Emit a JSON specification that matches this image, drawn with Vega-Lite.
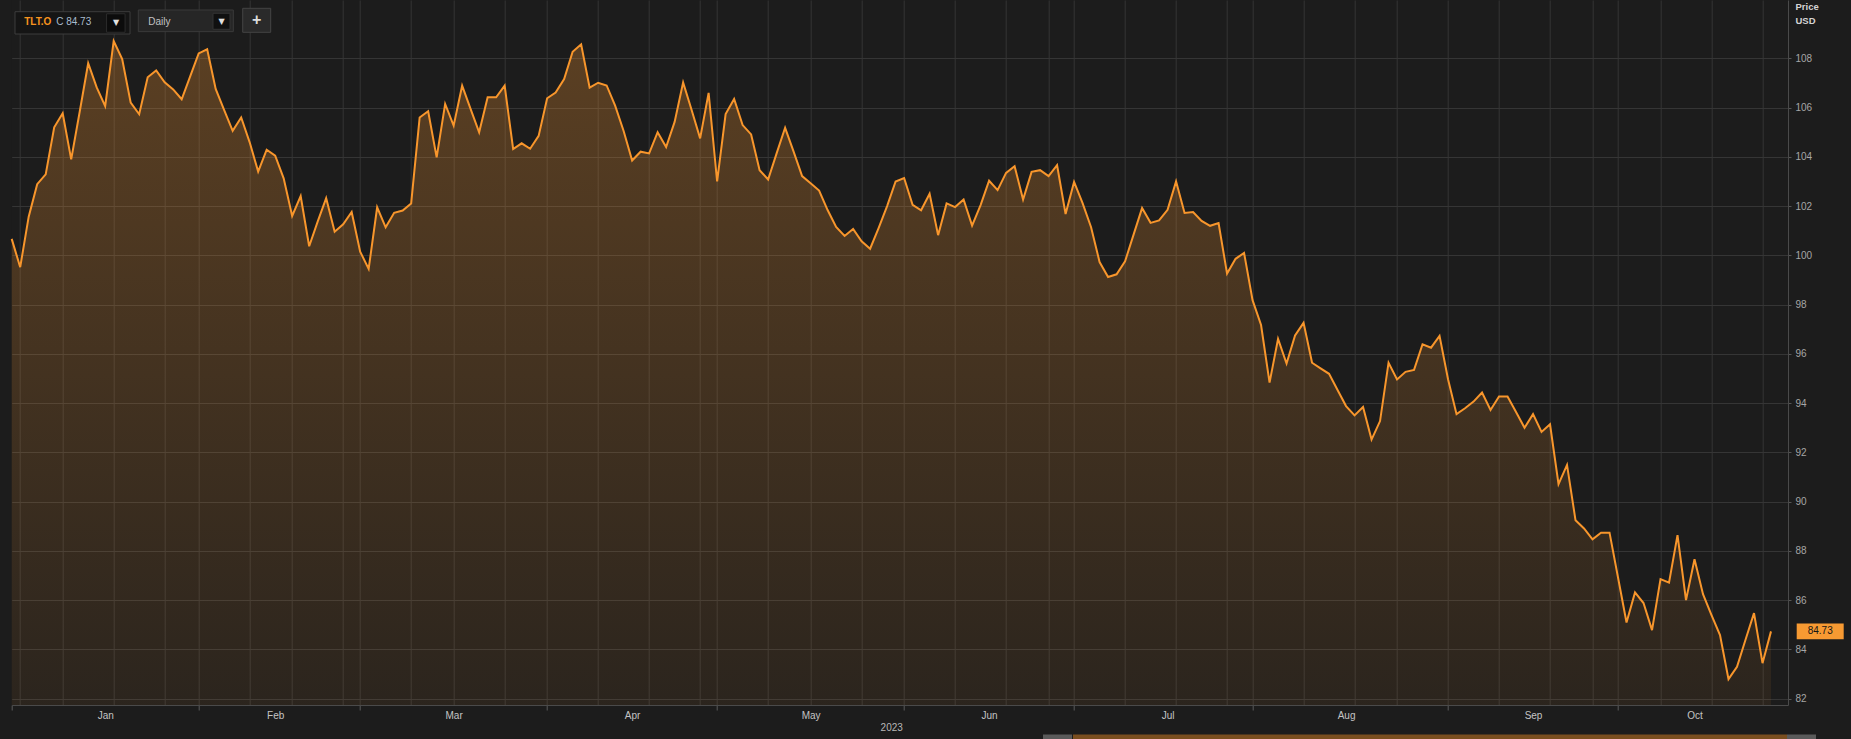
{
  "$schema": "https://vega.github.io/schema/vega-lite/v6.json",
  "autosize": "none",
  "width": 1776.3,
  "height": 705,
  "padding": {"left": 11.7, "top": 0, "right": 63, "bottom": 34},
  "background": "#1c1c1c",
  "config": {
    "view": {"stroke": null, "fill": "#1c1c1c"},
    "font": "Liberation Sans",
    "axis": {"labelFont": "Liberation Sans", "titleFont": "Liberation Sans"}
  },
  "data": {"values": [
    {"date": "2022-12-29", "close": 100.67}, {"date": "2022-12-30", "close": 99.52},
    {"date": "2023-01-03", "close": 101.57}, {"date": "2023-01-04", "close": 102.89}, {"date": "2023-01-05", "close": 103.29}, {"date": "2023-01-06", "close": 105.2},
    {"date": "2023-01-09", "close": 105.77}, {"date": "2023-01-10", "close": 103.9}, {"date": "2023-01-11", "close": 105.83}, {"date": "2023-01-12", "close": 107.8}, {"date": "2023-01-13", "close": 106.82},
    {"date": "2023-01-17", "close": 106.06}, {"date": "2023-01-18", "close": 108.7}, {"date": "2023-01-19", "close": 107.97}, {"date": "2023-01-20", "close": 106.2},
    {"date": "2023-01-23", "close": 105.73}, {"date": "2023-01-24", "close": 107.23}, {"date": "2023-01-25", "close": 107.51}, {"date": "2023-01-26", "close": 107.03}, {"date": "2023-01-27", "close": 106.74},
    {"date": "2023-01-30", "close": 106.34}, {"date": "2023-01-31", "close": 107.27},
    {"date": "2023-02-01", "close": 108.2}, {"date": "2023-02-02", "close": 108.37}, {"date": "2023-02-03", "close": 106.76},
    {"date": "2023-02-06", "close": 105.9}, {"date": "2023-02-07", "close": 105.06}, {"date": "2023-02-08", "close": 105.6}, {"date": "2023-02-09", "close": 104.59}, {"date": "2023-02-10", "close": 103.4},
    {"date": "2023-02-13", "close": 104.29}, {"date": "2023-02-14", "close": 104.05}, {"date": "2023-02-15", "close": 103.13}, {"date": "2023-02-16", "close": 101.6}, {"date": "2023-02-17", "close": 102.41},
    {"date": "2023-02-21", "close": 100.37}, {"date": "2023-02-22", "close": 101.37}, {"date": "2023-02-23", "close": 102.32}, {"date": "2023-02-24", "close": 100.96},
    {"date": "2023-02-27", "close": 101.26}, {"date": "2023-02-28", "close": 101.76},
    {"date": "2023-03-01", "close": 100.15}, {"date": "2023-03-02", "close": 99.45}, {"date": "2023-03-03", "close": 101.95},
    {"date": "2023-03-06", "close": 101.14}, {"date": "2023-03-07", "close": 101.73}, {"date": "2023-03-08", "close": 101.82}, {"date": "2023-03-09", "close": 102.11}, {"date": "2023-03-10", "close": 105.6},
    {"date": "2023-03-13", "close": 105.85}, {"date": "2023-03-14", "close": 103.98}, {"date": "2023-03-15", "close": 106.15}, {"date": "2023-03-16", "close": 105.27}, {"date": "2023-03-17", "close": 106.89},
    {"date": "2023-03-20", "close": 105.94}, {"date": "2023-03-21", "close": 105.0}, {"date": "2023-03-22", "close": 106.42}, {"date": "2023-03-23", "close": 106.42}, {"date": "2023-03-24", "close": 106.89},
    {"date": "2023-03-27", "close": 104.32}, {"date": "2023-03-28", "close": 104.55}, {"date": "2023-03-29", "close": 104.33}, {"date": "2023-03-30", "close": 104.85}, {"date": "2023-03-31", "close": 106.38},
    {"date": "2023-04-03", "close": 106.61}, {"date": "2023-04-04", "close": 107.16}, {"date": "2023-04-05", "close": 108.27}, {"date": "2023-04-06", "close": 108.57},
    {"date": "2023-04-10", "close": 106.81}, {"date": "2023-04-11", "close": 107.01}, {"date": "2023-04-12", "close": 106.9}, {"date": "2023-04-13", "close": 106.08}, {"date": "2023-04-14", "close": 105.05},
    {"date": "2023-04-17", "close": 103.85}, {"date": "2023-04-18", "close": 104.21}, {"date": "2023-04-19", "close": 104.14}, {"date": "2023-04-20", "close": 105.0}, {"date": "2023-04-21", "close": 104.4},
    {"date": "2023-04-24", "close": 105.42}, {"date": "2023-04-25", "close": 107.02}, {"date": "2023-04-26", "close": 105.9}, {"date": "2023-04-27", "close": 104.75}, {"date": "2023-04-28", "close": 106.6},
    {"date": "2023-05-01", "close": 103.0}, {"date": "2023-05-02", "close": 105.74}, {"date": "2023-05-03", "close": 106.35}, {"date": "2023-05-04", "close": 105.29}, {"date": "2023-05-05", "close": 104.91},
    {"date": "2023-05-08", "close": 103.46}, {"date": "2023-05-09", "close": 103.08}, {"date": "2023-05-10", "close": 104.14}, {"date": "2023-05-11", "close": 105.18}, {"date": "2023-05-12", "close": 104.21},
    {"date": "2023-05-15", "close": 103.22}, {"date": "2023-05-16", "close": 102.93}, {"date": "2023-05-17", "close": 102.63}, {"date": "2023-05-18", "close": 101.84}, {"date": "2023-05-19", "close": 101.15},
    {"date": "2023-05-22", "close": 100.79}, {"date": "2023-05-23", "close": 101.07}, {"date": "2023-05-24", "close": 100.57}, {"date": "2023-05-25", "close": 100.27}, {"date": "2023-05-26", "close": 101.11},
    {"date": "2023-05-30", "close": 102.0}, {"date": "2023-05-31", "close": 103.0},
    {"date": "2023-06-01", "close": 103.14}, {"date": "2023-06-02", "close": 102.05},
    {"date": "2023-06-05", "close": 101.83}, {"date": "2023-06-06", "close": 102.5}, {"date": "2023-06-07", "close": 100.82}, {"date": "2023-06-08", "close": 102.11}, {"date": "2023-06-09", "close": 101.96},
    {"date": "2023-06-12", "close": 102.27}, {"date": "2023-06-13", "close": 101.21}, {"date": "2023-06-14", "close": 102.04}, {"date": "2023-06-15", "close": 103.03}, {"date": "2023-06-16", "close": 102.65},
    {"date": "2023-06-20", "close": 103.35}, {"date": "2023-06-21", "close": 103.62}, {"date": "2023-06-22", "close": 102.27}, {"date": "2023-06-23", "close": 103.39},
    {"date": "2023-06-26", "close": 103.46}, {"date": "2023-06-27", "close": 103.22}, {"date": "2023-06-28", "close": 103.66}, {"date": "2023-06-29", "close": 101.68}, {"date": "2023-06-30", "close": 102.98},
    {"date": "2023-07-03", "close": 102.12}, {"date": "2023-07-05", "close": 101.14}, {"date": "2023-07-06", "close": 99.73}, {"date": "2023-07-07", "close": 99.12},
    {"date": "2023-07-10", "close": 99.23}, {"date": "2023-07-11", "close": 99.76}, {"date": "2023-07-12", "close": 100.84}, {"date": "2023-07-13", "close": 101.92}, {"date": "2023-07-14", "close": 101.32},
    {"date": "2023-07-17", "close": 101.42}, {"date": "2023-07-18", "close": 101.85}, {"date": "2023-07-19", "close": 103.0}, {"date": "2023-07-20", "close": 101.72}, {"date": "2023-07-21", "close": 101.76},
    {"date": "2023-07-24", "close": 101.4}, {"date": "2023-07-25", "close": 101.2}, {"date": "2023-07-26", "close": 101.31}, {"date": "2023-07-27", "close": 99.26}, {"date": "2023-07-28", "close": 99.86},
    {"date": "2023-07-31", "close": 100.1},
    {"date": "2023-08-01", "close": 98.18}, {"date": "2023-08-02", "close": 97.17}, {"date": "2023-08-03", "close": 94.83}, {"date": "2023-08-04", "close": 96.61},
    {"date": "2023-08-07", "close": 95.61}, {"date": "2023-08-08", "close": 96.75}, {"date": "2023-08-09", "close": 97.26}, {"date": "2023-08-10", "close": 95.64}, {"date": "2023-08-11", "close": 95.41},
    {"date": "2023-08-14", "close": 95.19}, {"date": "2023-08-15", "close": 94.53}, {"date": "2023-08-16", "close": 93.88}, {"date": "2023-08-17", "close": 93.5}, {"date": "2023-08-18", "close": 93.84},
    {"date": "2023-08-21", "close": 92.52}, {"date": "2023-08-22", "close": 93.27}, {"date": "2023-08-23", "close": 95.64}, {"date": "2023-08-24", "close": 94.96}, {"date": "2023-08-25", "close": 95.27},
    {"date": "2023-08-28", "close": 95.35}, {"date": "2023-08-29", "close": 96.39}, {"date": "2023-08-30", "close": 96.25}, {"date": "2023-08-31", "close": 96.73},
    {"date": "2023-09-01", "close": 94.97},
    {"date": "2023-09-05", "close": 93.55}, {"date": "2023-09-06", "close": 93.79}, {"date": "2023-09-07", "close": 94.06}, {"date": "2023-09-08", "close": 94.43},
    {"date": "2023-09-11", "close": 93.72}, {"date": "2023-09-12", "close": 94.27}, {"date": "2023-09-13", "close": 94.27}, {"date": "2023-09-14", "close": 93.64}, {"date": "2023-09-15", "close": 93.0},
    {"date": "2023-09-18", "close": 93.55}, {"date": "2023-09-19", "close": 92.83}, {"date": "2023-09-20", "close": 93.14}, {"date": "2023-09-21", "close": 90.71}, {"date": "2023-09-22", "close": 91.49},
    {"date": "2023-09-25", "close": 89.24}, {"date": "2023-09-26", "close": 88.91}, {"date": "2023-09-27", "close": 88.47}, {"date": "2023-09-28", "close": 88.74}, {"date": "2023-09-29", "close": 88.74},
    {"date": "2023-10-02", "close": 86.92}, {"date": "2023-10-03", "close": 85.09}, {"date": "2023-10-04", "close": 86.31}, {"date": "2023-10-05", "close": 85.88}, {"date": "2023-10-06", "close": 84.78},
    {"date": "2023-10-09", "close": 86.85}, {"date": "2023-10-10", "close": 86.71}, {"date": "2023-10-11", "close": 88.64}, {"date": "2023-10-12", "close": 86.0}, {"date": "2023-10-13", "close": 87.66},
    {"date": "2023-10-16", "close": 86.24}, {"date": "2023-10-17", "close": 85.39}, {"date": "2023-10-18", "close": 84.58}, {"date": "2023-10-19", "close": 82.79}, {"date": "2023-10-20", "close": 83.29},
    {"date": "2023-10-23", "close": 84.39}, {"date": "2023-10-24", "close": 85.47}, {"date": "2023-10-25", "close": 83.44}, {"date": "2023-10-26", "close": 84.73}
  ]},
  "encoding": {
    "x": {
      "field": "date", "type": "ordinal",
      "scale": {"type": "point", "padding": 1.52, "align": 0, "round": false},
      "axis": {
        "orient": "bottom",
        "title": "2023",
        "titleFontSize": 10, "titleFontWeight": "normal", "titleColor": "#b8b8b8", "titlePadding": 2, "titleX": 879.5,
        "labelAngle": 0, "labelOverlap": false, "labelFontSize": 10, "labelColor": "#c4c4c4", "labelPadding": 0,
        "labelExpr": "datum.value === '2023-01-17' ? 'Jan' : datum.value === '2023-02-14' ? 'Feb' : datum.value === '2023-03-16' ? 'Mar' : datum.value === '2023-04-17' ? 'Apr' : datum.value === '2023-05-16' ? 'May' : datum.value === '2023-06-15' ? 'Jun' : datum.value === '2023-07-18' ? 'Jul' : datum.value === '2023-08-16' ? 'Aug' : datum.value === '2023-09-18' ? 'Sep' : datum.value === '2023-10-13' ? 'Oct' : ''",
        "ticks": true, "tickSize": 5, "tickColor": "#5a5a5a",
        "tickOpacity": {"condition": {"test": "indexof(['2022-12-29','2023-02-01','2023-03-01','2023-03-31','2023-05-01','2023-06-01','2023-06-30','2023-08-01','2023-09-01','2023-10-02'], datum.value) >= 0", "value": 1}, "value": 0},
        "grid": true, "gridColor": "#353535", "gridWidth": 1,
        "gridOpacity": {"condition": {"test": "indexof(['2022-12-30','2023-01-09','2023-01-18','2023-01-26','2023-02-01','2023-02-09','2023-02-16','2023-02-27','2023-03-01','2023-03-09','2023-03-16','2023-03-24','2023-03-31','2023-04-11','2023-04-19','2023-04-27','2023-05-01','2023-05-09','2023-05-16','2023-05-24','2023-06-01','2023-06-09','2023-06-20','2023-06-27','2023-06-30','2023-07-11','2023-07-19','2023-07-27','2023-08-01','2023-08-09','2023-08-17','2023-08-24','2023-09-01','2023-09-12','2023-09-20','2023-09-27','2023-10-02','2023-10-09','2023-10-17','2023-10-25'], datum.value) >= 0", "value": 1}, "value": 0},
        "domain": true, "domainColor": "#4a4a4a"
      }
    },
    "y": {
      "field": "close", "type": "quantitative",
      "scale": {"domain": [81.74, 110.37], "zero": false, "nice": false},
      "axis": {
        "orient": "right",
        "values": [82, 84, 86, 88, 90, 92, 94, 96, 98, 100, 102, 104, 106, 108],
        "title": ["Price", "USD"],
        "titleAngle": 0, "titleAlign": "left", "titleBaseline": "top", "titleX": 7, "titleY": 1,
        "titleFontSize": 9.5, "titleFontWeight": "bold", "titleColor": "#d4d4d4", "titleLineHeight": 14,
        "labelFontSize": 10, "labelColor": "#a6a6a6", "labelPadding": 4,
        "tickSize": 3, "tickColor": "#555555",
        "grid": true, "gridColor": "#353535", "gridWidth": 1,
        "domain": true, "domainColor": "#4a4a4a"
      }
    }
  },
  "layer": [
    {
      "mark": {
        "type": "area",
        "color": {
          "gradient": "linear", "x1": 0, "y1": 0, "x2": 0, "y2": 1,
          "stops": [
            {"offset": 0, "color": "rgba(245,150,50,0.29)"},
            {"offset": 1, "color": "rgba(245,150,50,0.07)"}
          ]
        }
      },
      "encoding": {"y2": {"datum": 81.74}}
    },
    {
      "mark": {"type": "line", "color": "#f8962c", "strokeWidth": 2}
    },
    {
      "transform": [{"filter": "datum.date === '2023-10-26'"}],
      "mark": {"type": "point", "shape": "M-1,-0.34H1V0.34H-1Z", "size": 2209, "filled": true, "color": "#f79a32", "opacity": 1, "strokeWidth": 0, "xOffset": 49.2}
    },
    {
      "transform": [{"filter": "datum.date === '2023-10-26'"}],
      "mark": {"type": "text", "dx": 49.2, "align": "center", "baseline": "middle", "fontSize": 10, "color": "#161616"},
      "encoding": {"text": {"field": "close", "type": "quantitative", "format": ".2f"}}
    },
    {
      "transform": [{"filter": "datum.date === '2022-12-29'"}],
      "mark": {"type": "point", "shape": "M-1,-0.0084H1V0.0084H-1Z", "size": 509796, "filled": true, "fill": "#7a4e1f", "strokeWidth": 0, "opacity": 1, "xOffset": 1418.3, "yOffset": 32.5},
      "encoding": {"y": {"datum": 81.74, "type": "quantitative"}}
    },
    {
      "transform": [{"filter": "datum.date === '2022-12-29'"}],
      "mark": {"type": "point", "shape": "M-1,-0.207H1V0.207H-1Z", "size": 841, "filled": true, "fill": "#5a5a5a", "strokeWidth": 0, "opacity": 1, "xOffset": 1045.8, "yOffset": 32.5},
      "encoding": {"y": {"datum": 81.74, "type": "quantitative"}}
    },
    {
      "transform": [{"filter": "datum.date === '2022-12-29'"}],
      "mark": {"type": "point", "shape": "M-1,-0.207H1V0.207H-1Z", "size": 841, "filled": true, "fill": "#5a5a5a", "strokeWidth": 0, "opacity": 1, "xOffset": 1789.8, "yOffset": 32.5},
      "encoding": {"y": {"datum": 81.74, "type": "quantitative"}}
    },
    {
      "transform": [{"filter": "datum.date === '2022-12-29'"}],
      "mark": {"type": "point", "shape": "M-1,-0.194H1V0.194H-1Z", "size": 13225, "filled": true, "fill": "#151515", "stroke": "#3d3d3d", "strokeWidth": 1, "opacity": 1, "xOffset": 60.8, "yOffset": 22.85},
      "encoding": {"y": {"datum": 110.37, "type": "quantitative"}}
    },
    {
      "transform": [{"filter": "datum.date === '2022-12-29'"}],
      "mark": {"type": "point", "shape": "M-1,-1H1V1H-1Z", "size": 342, "filled": true, "fill": "#0c0c0c", "stroke": "#2c2c2c", "strokeWidth": 1, "opacity": 1, "xOffset": 104.1, "yOffset": 23},
      "encoding": {"y": {"datum": 110.37, "type": "quantitative"}}
    },
    {
      "transform": [{"filter": "datum.date === '2022-12-29'"}],
      "mark": {"type": "point", "shape": "M-1,-0.228H1V0.228H-1Z", "size": 9025, "filled": true, "fill": "#262626", "stroke": "#3a3a3a", "strokeWidth": 1, "opacity": 1, "xOffset": 174.1, "yOffset": 20.8},
      "encoding": {"y": {"datum": 110.37, "type": "quantitative"}}
    },
    {
      "transform": [{"filter": "datum.date === '2022-12-29'"}],
      "mark": {"type": "point", "shape": "M-1,-0.94H1V0.94H-1Z", "size": 289, "filled": true, "fill": "#101010", "stroke": "#333333", "strokeWidth": 1, "opacity": 1, "xOffset": 209.8, "yOffset": 21.3},
      "encoding": {"y": {"datum": 110.37, "type": "quantitative"}}
    },
    {
      "transform": [{"filter": "datum.date === '2022-12-29'"}],
      "mark": {"type": "point", "shape": "M-1,-0.857H1V0.857H-1Z", "size": 784, "filled": true, "fill": "#2a2a2a", "stroke": "#444444", "strokeWidth": 1, "opacity": 1, "xOffset": 245, "yOffset": 20.3},
      "encoding": {"y": {"datum": 110.37, "type": "quantitative"}}
    },
    {
      "transform": [{"filter": "datum.date === '2022-12-29'"}],
      "mark": {"type": "text", "align": "left", "baseline": "middle", "dx": 12.5, "dy": 22, "fontSize": 10, "fontWeight": "bold", "color": "#f7931e"},
      "encoding": {"y": {"datum": 110.37, "type": "quantitative"}, "text": {"value": "TLT.O"}}
    },
    {
      "transform": [{"filter": "datum.date === '2022-12-29'"}],
      "mark": {"type": "text", "align": "left", "baseline": "middle", "dx": 44.5, "dy": 22, "fontSize": 10, "color": "#a9bccd"},
      "encoding": {"y": {"datum": 110.37, "type": "quantitative"}, "text": {"value": "C 84.73"}}
    },
    {
      "transform": [{"filter": "datum.date === '2022-12-29'"}],
      "mark": {"type": "text", "align": "left", "baseline": "middle", "dx": 136.5, "dy": 21.5, "fontSize": 10, "color": "#c2c2c2"},
      "encoding": {"y": {"datum": 110.37, "type": "quantitative"}, "text": {"value": "Daily"}}
    },
    {
      "transform": [{"filter": "datum.date === '2022-12-29'"}],
      "mark": {"type": "text", "align": "center", "baseline": "middle", "dx": 104.3, "dy": 22.5, "fontSize": 8, "font": "DejaVu Sans", "color": "#e0e0e0"},
      "encoding": {"y": {"datum": 110.37, "type": "quantitative"}, "text": {"value": "▼"}}
    },
    {
      "transform": [{"filter": "datum.date === '2022-12-29'"}],
      "mark": {"type": "text", "align": "center", "baseline": "middle", "dx": 209.8, "dy": 21.5, "fontSize": 8, "font": "DejaVu Sans", "color": "#e0e0e0"},
      "encoding": {"y": {"datum": 110.37, "type": "quantitative"}, "text": {"value": "▼"}}
    },
    {
      "transform": [{"filter": "datum.date === '2022-12-29'"}],
      "mark": {"type": "text", "align": "center", "baseline": "middle", "dx": 245, "dy": 20, "fontSize": 16, "fontWeight": "bold", "color": "#dcdcdc"},
      "encoding": {"y": {"datum": 110.37, "type": "quantitative"}, "text": {"value": "+"}}
    }
  ]
}
